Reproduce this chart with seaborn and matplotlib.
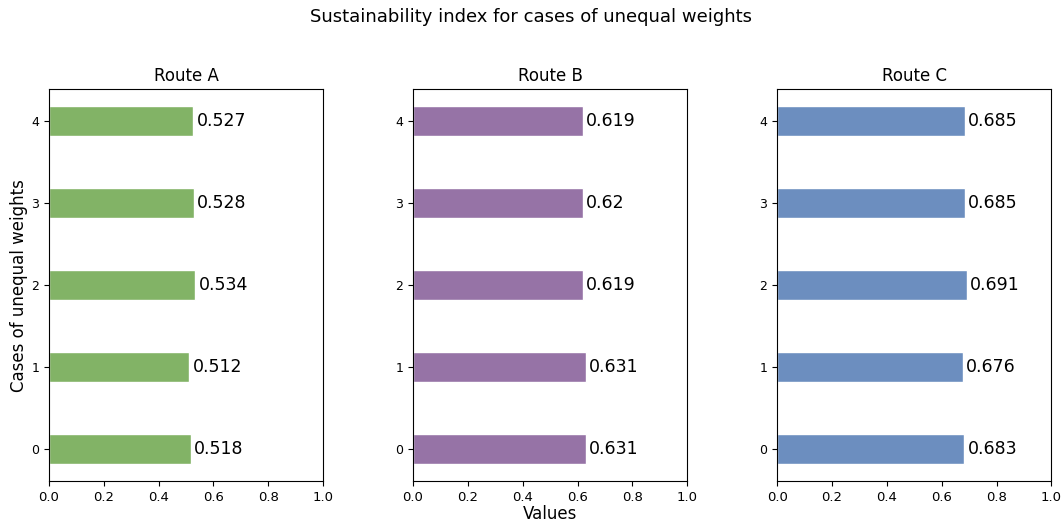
import matplotlib
matplotlib.use("Agg")
import matplotlib.pyplot as plt
import seaborn as sns
import pandas as pd

cases = ["0", "1", "2", "3", "4"]
route_a = [0.518, 0.512, 0.534, 0.528, 0.527]
route_b = [0.631, 0.631, 0.619, 0.620, 0.619]
route_c = [0.683, 0.676, 0.691, 0.685, 0.685]
routes = ["Route A", "Route B", "Route C"]
colors = ["#82b366", "#9673a6", "#6c8ebf"]

sns.set_style("ticks", {"text.color": "black", "axes.labelcolor": "black",
                        "xtick.color": "black", "ytick.color": "black",
                        "axes.edgecolor": "black"})
plt.rcParams["font.family"] = ["DejaVu Sans"]

fig, axes = plt.subplots(1, 3, figsize=(10.62, 5.25), dpi=100)
fig.subplots_adjust(left=0.046, right=0.99, top=0.83, bottom=0.084, wspace=0.328)

for ax, name, vals, col in zip(axes, routes, [route_a, route_b, route_c], colors):
    df = pd.DataFrame({"case": cases, "value": vals})
    sns.barplot(data=df, x="value", y="case", order=cases[::-1], color=col,
                saturation=1, width=0.36, orient="h", ax=ax)
    for c, v in zip(cases, vals):
        ax.text(v + 0.012, cases[::-1].index(c), f"{v:g}", va="center", ha="left",
                fontsize=12.5, color="black")
    ax.set_xlim(0, 1)
    ax.set_ylim(4.39, -0.39)
    ax.set_title(name, fontsize=12)
    ax.set_xlabel("")
    ax.set_ylabel("")
    ax.tick_params(axis="y", labelsize=9)
    ax.tick_params(axis="x", labelsize=9.5)
    for s in ax.spines.values():
        s.set_visible(True)
        s.set_color("black")
        s.set_linewidth(0.8)

axes[0].set_ylabel("Cases of unequal weights", fontsize=12, labelpad=2)
axes[1].set_xlabel("Values", fontsize=12, labelpad=1)
fig.suptitle("Sustainability index for cases of unequal weights", fontsize=13, y=0.985)

fig.savefig("out.png", dpi=100)
